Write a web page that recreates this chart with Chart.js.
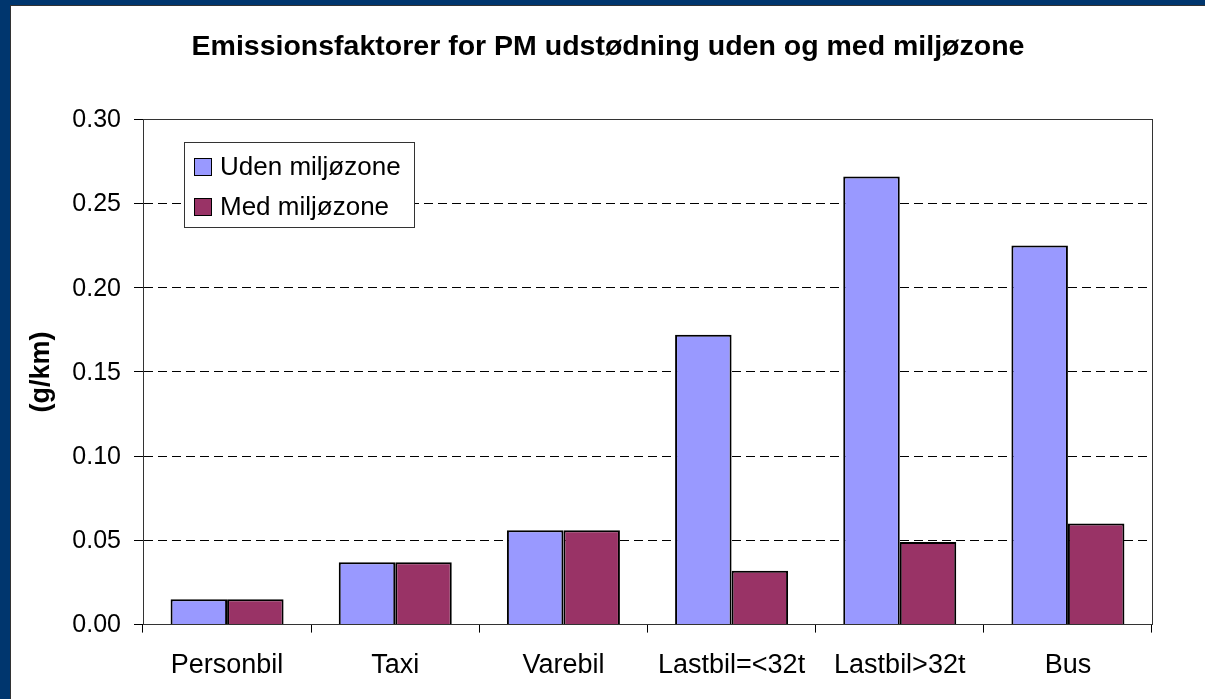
<!DOCTYPE html>
<html>
<head>
<meta charset="utf-8">
<script src="https://cdn.jsdelivr.net/npm/chart.js@4.4.1/dist/chart.umd.min.js"></script>
<style>
  body { margin: 0; background: #fff; }
  #frame {
    position: absolute; left: 0; top: 0; width: 1205px; height: 699px; box-sizing: border-box;
    border-top: 5px solid #00366e; border-left: 10px solid #00366e;
  }
  #inner { width: 100%; height: 100%; box-sizing: border-box; border-top: 1px solid #333; border-left: 1px solid #333; }
  canvas { display: block; }
</style>
</head>
<body>
<div id="frame"><div id="inner"><canvas id="chart" width="1194" height="693"></canvas></div></div>
<script>
const categories = ['Personbil', 'Taxi', 'Varebil', 'Lastbil=<32t', 'Lastbil>32t', 'Bus'];
const udenMiljozone = [0.015, 0.037, 0.056, 0.172, 0.266, 0.225];
const medMiljozone = [0.015, 0.037, 0.056, 0.032, 0.049, 0.060];
const yTickLabels = ['0.00', '0.05', '0.10', '0.15', '0.20', '0.25', '0.30'];

const FONT = '"Liberation Sans", Arial, sans-serif';

// frame round the plot area (top and right side)
const plotBorder = {
    id: 'plotBorder',
    beforeDatasetsDraw(chart) {
        const { ctx, chartArea } = chart;
        ctx.save();
        ctx.strokeStyle = '#333';
        ctx.lineWidth = 1;
        ctx.strokeRect(Math.round(chartArea.left) + 0.5, Math.round(chartArea.top) + 0.5,
            Math.round(chartArea.width), Math.round(chartArea.height));
        ctx.restore();
    }
};

// legend box inside the plot, like the Excel one
const boxLegend = {
    id: 'boxLegend',
    afterDraw(chart) {
        const { ctx, chartArea } = chart;
        const x = Math.round(chartArea.left) + 41;
        const y = Math.round(chartArea.top) + 23;
        const w = 230, h = 85;
        ctx.save();
        ctx.fillStyle = '#fff';
        ctx.fillRect(x, y, w, h);
        ctx.strokeStyle = '#333';
        ctx.lineWidth = 1;
        ctx.strokeRect(x + 0.5, y + 0.5, w, h);
        ctx.font = '26px ' + FONT;
        ctx.textBaseline = 'middle';
        chart.data.datasets.forEach((ds, i) => {
            const cy = y + 25 + i * 40;
            ctx.fillStyle = ds.backgroundColor;
            ctx.fillRect(x + 10, cy - 9, 17, 17);
            ctx.strokeStyle = '#000';
            ctx.strokeRect(x + 10.5, cy - 8.5, 17, 17);
            ctx.fillStyle = '#000';
            ctx.fillText(ds.label, x + 36, cy + 1);
        });
        ctx.restore();
    }
};

const ctx = document.getElementById('chart').getContext('2d');
const chart = new Chart(ctx, {
    type: 'bar',
    data: {
        labels: categories,
        datasets: [{
            label: 'Uden miljøzone',
            data: udenMiljozone,
            backgroundColor: '#9999FF',
            borderColor: '#000',
            borderWidth: 2
        }, {
            label: 'Med miljøzone',
            data: medMiljozone,
            backgroundColor: '#993366',
            borderColor: '#000',
            borderWidth: 2
        }]
    },
    options: {
        responsive: false,
        animation: false,
        layout: { padding: { left: 0, top: 0, right: 0, bottom: 0 } },
        datasets: { bar: { categoryPercentage: 0.672, barPercentage: 1 } },
        plugins: {
            legend: { display: false },
            tooltip: { enabled: false },
            title: {
                display: true,
                text: 'Emissionsfaktorer for PM udstødning uden og med miljøzone',
                color: '#000',
                font: { family: FONT, size: 28.5, weight: 'bold' },
                padding: { top: 24, bottom: 55 }
            }
        },
        scales: {
            x: {
                grid: { display: true, drawOnChartArea: false, drawTicks: true, tickLength: 8, color: '#000', offset: true },
                border: { display: true, color: '#000', width: 1 },
                ticks: { color: '#000', padding: 17, font: { family: FONT, size: 27 }, maxRotation: 0, autoSkip: false }
            },
            y: {
                min: 0,
                max: 0.3,
                afterFit(scale) { scale.width = 132; },
                grid: { color: '#000', lineWidth: 1, tickLength: 9, tickBorderDash: [], tickColor: '#000' },
                border: { display: true, color: '#000', width: 1, dash: [9, 5] },
                ticks: {
                    stepSize: 0.05,
                    color: '#000',
                    padding: 13,
                    labelOffset: 1,
                    font: { family: FONT, size: 25 },
                    callback: (v, i) => yTickLabels[i]
                },
                title: {
                    display: true,
                    text: '(g/km)',
                    color: '#000',
                    font: { family: FONT, size: 27, weight: 'bold' },
                    padding: { top: 14, bottom: 0 }
                }
            },
            // empty right-hand space, so the title centres on the whole canvas
            yRight: {
                position: 'right',
                display: true,
                afterFit(scale) { scale.width = 53; },
                grid: { display: false },
                border: { display: false },
                ticks: { display: false }
            }
        }
    },
    plugins: [plotBorder, boxLegend]
});
</script>
</body>
</html>
